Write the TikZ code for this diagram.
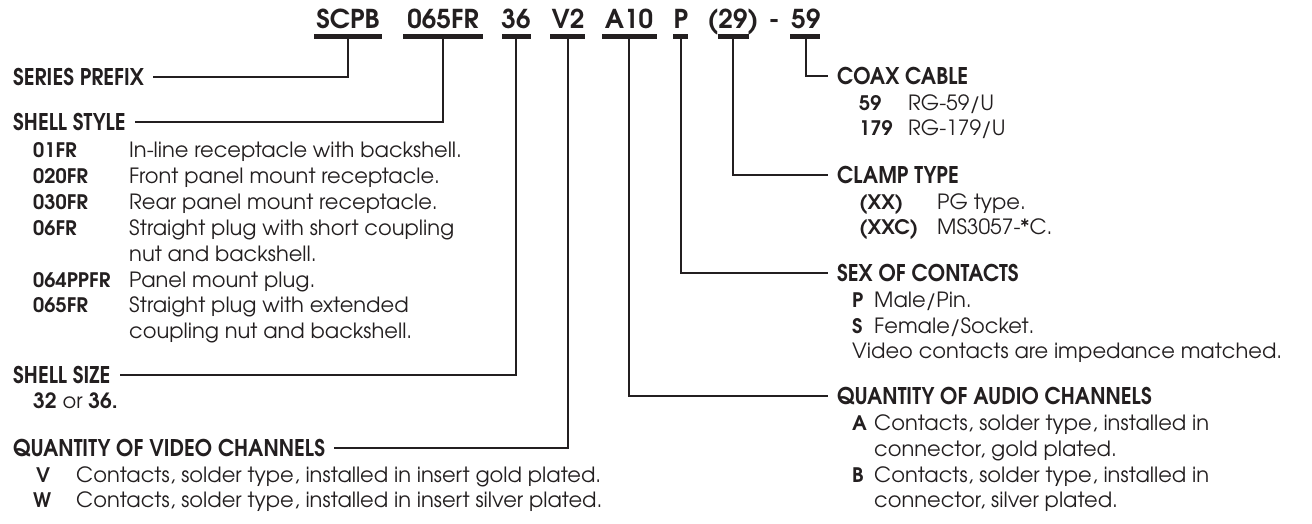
\documentclass[tikz,border=0pt]{standalone}
\usepackage{fontspec}
\setmainfont{texgyreadventor}[Extension=.otf,UprightFont=*-regular,BoldFont=*-bold]
\newfontfamily\labelfont{texgyreadventor-bold.otf}[FakeStretch=0.9]
\usetikzlibrary{positioning}
\definecolor{ink}{HTML}{231F20}

\begin{document}
\begin{tikzpicture}[x=1pt,y=-1pt,color=ink]
\tikzset{
  codetext/.style={inner sep=0pt,anchor=base,font=\fontsize{26}{26}\selectfont\bfseries},
  codebar/.style={line width=5pt},
  leader/.style={line width=2pt},
  heading/.style={anchor=west,inner xsep=9pt,inner ysep=0pt,text height=16.5pt,text depth=0pt,
    font=\fontsize{23}{23}\selectfont\labelfont},
  itemcode/.style={anchor=base west,inner sep=0pt,font=\fontsize{20}{20}\selectfont\bfseries},
  itemtext/.style={anchor=base west,inner sep=0pt,font=\fontsize{21}{21}\selectfont}
}
\useasboundingbox (0,0) rectangle (1312,523);
% part number
\node[codetext] (c_scpb) at (348,28) {SCPB};
\node[codetext] (c_shell) at (443,28) {065FR};
\node[codetext] (c_size) at (516,28) {36};
\node[codetext] (c_video) at (568,28) {V2};
\node[codetext] (c_audio) at (629,28) {A10};
\node[codetext] (c_sex) at (681,28) {P};
\node[codetext] (c_clamp) at (733,28) {(29)};
\node[codetext] (c_dash) at (774,28) {-};
\node[codetext] (c_coax) at (806,28) {59};
\draw[codebar] (314,36) -- (382,36);
\draw[codebar] (403,36) -- (483,36);
\draw[codebar] (502,36) -- (531,36);
\draw[codebar] (550,36) -- (585,36);
\draw[codebar] (602,36) -- (657,36);
\draw[codebar] (673,36) -- (688,36);
\draw[codebar] (718,36) -- (749,36);
\draw[codebar] (790,36) -- (820,36);
\coordinate (b_scpb) at (348,38);
\coordinate (b_shell) at (443,38);
\coordinate (b_size) at (516,38);
\coordinate (b_video) at (568,38);
\coordinate (b_audio) at (629,38);
\coordinate (b_sex) at (681,38);
\coordinate (b_clamp) at (733,38);
\coordinate (b_coax) at (806,38);
% left side
\node[heading] (h_series) at (4,77) {SERIES PREFIX};
\node[heading] (h_shell) at (4,122) {SHELL STYLE};
\node[itemcode] (s_01) at (33,157) {01FR};
\node[itemtext] (t_01) at (129,157) {In-line receptacle with backshell.};
\node[itemcode] (s_020) at (33,183) {020FR};
\node[itemtext] (t_020) at (129,183) {Front panel mount receptacle.};
\node[itemcode] (s_030) at (33,209) {030FR};
\node[itemtext] (t_030) at (129,209) {Rear panel mount receptacle.};
\node[itemcode] (s_06) at (33,235) {06FR};
\node[itemtext] (t_06a) at (129,235) {Straight plug with short coupling};
\node[itemtext] (t_06b) at (129,261) {nut and backshell.};
\node[itemcode] (s_064) at (33,287) {064PPFR};
\node[itemtext] (t_064) at (129,287) {Panel mount plug.};
\node[itemcode] (s_065) at (33,312) {065FR};
\node[itemtext] (t_065a) at (129,312) {Straight plug with extended};
\node[itemtext] (t_065b) at (129,338) {coupling nut and backshell.};
\node[heading] (h_size) at (4,375) {SHELL SIZE};
\node[itemtext] (t_size) at (33,408) {\textbf{32} or \textbf{36.}};
\node[heading] (h_video) at (4,448) {QUANTITY OF VIDEO CHANNELS};
\node[itemcode] (v_v) at (36,482) {V};
\node[itemtext] (t_v) at (76,482) {Contacts, solder type, installed in insert gold plated.};
\node[itemcode] (v_w) at (33,507) {W};
\node[itemtext] (t_w) at (76,507) {Contacts, solder type, installed in insert silver plated.};
% right side
\node[heading] (h_coax) at (828,76) {COAX CABLE};
\node[itemcode] (x_59) at (859,110) {59};
\node[itemtext] (t_59) at (908,110) {RG-59/U};
\node[itemcode] (x_179) at (859,135) {179};
\node[itemtext] (t_179) at (908,135) {RG-179/U};
\node[heading] (h_clamp) at (828,175) {CLAMP TYPE};
\node[itemcode] (k_xx) at (859,209) {(XX)};
\node[itemtext] (t_xx) at (937,209) {PG type.};
\node[itemcode] (k_xxc) at (859,234) {(XXC)};
\node[itemtext] (t_xxc) at (937,234) {MS3057-*C.};
\node[heading] (h_sex) at (828,273) {SEX OF CONTACTS};
\node[itemcode] (p_p) at (852,307) {P};
\node[itemtext] (t_p) at (874,307) {Male/Pin.};
\node[itemcode] (p_s) at (852,333) {S};
\node[itemtext] (t_s) at (874,333) {Female/Socket.};
\node[itemtext] (t_match) at (852,358) {Video contacts are impedance matched.};
\node[heading] (h_audio) at (828,396) {QUANTITY OF AUDIO CHANNELS};
\node[itemcode] (a_a) at (852,430) {A};
\node[itemtext] (t_a1) at (874,430) {Contacts, solder type, installed in};
\node[itemtext] (t_a2) at (874,456) {connector, gold plated.};
\node[itemcode] (a_b) at (852,482) {B};
\node[itemtext] (t_b1) at (874,482) {Contacts, solder type, installed in};
\node[itemtext] (t_b2) at (874,507) {connector, silver plated.};
% leaders
\draw[leader] (b_scpb) |- (h_series.east);
\draw[leader] (b_shell) |- (h_shell.east);
\draw[leader] (b_size) |- (h_size.east);
\draw[leader] (b_video) |- (h_video.east);
\draw[leader] (b_audio) |- (h_audio.west);
\draw[leader] (b_sex) |- (h_sex.west);
\draw[leader] (b_clamp) |- (h_clamp.west);
\draw[leader] (b_coax) |- (h_coax.west);
\end{tikzpicture}
\end{document}
